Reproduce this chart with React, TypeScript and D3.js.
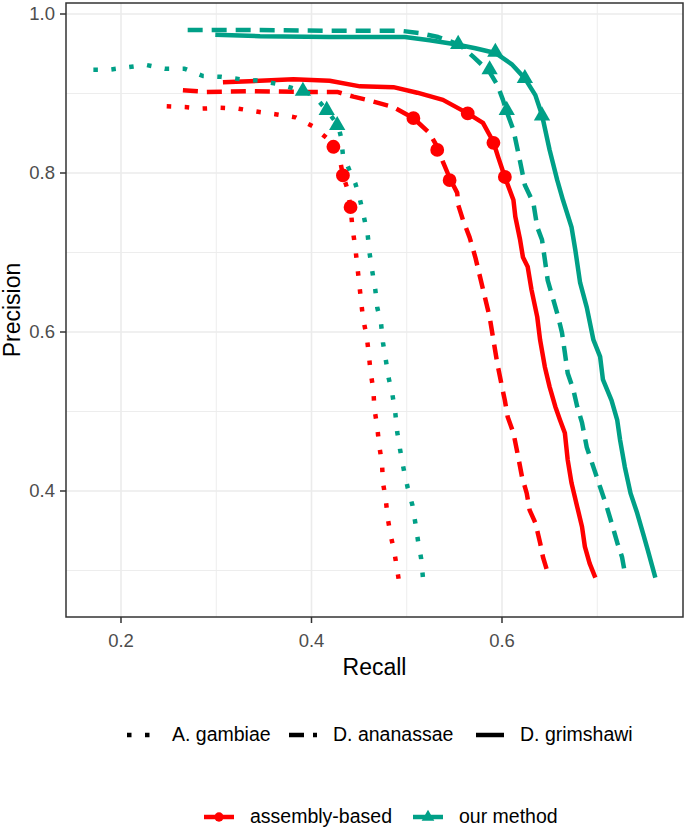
import * as d3 from "d3";

// Precision/recall curves: [recall, precision]
const gambiaeAssembly: [number, number][] = [
  [0.248, 0.884], [0.267, 0.883], [0.285, 0.881], [0.304, 0.882], [0.323, 0.881],
  [0.344, 0.877], [0.362, 0.874], [0.383, 0.870], [0.401, 0.859], [0.416, 0.844],
  [0.423, 0.833], [0.430, 0.816], [0.433, 0.797], [0.438, 0.779], [0.441, 0.757],
  [0.443, 0.731], [0.446, 0.706], [0.448, 0.684], [0.450, 0.662], [0.452, 0.640],
  [0.454, 0.618], [0.458, 0.594], [0.460, 0.574], [0.462, 0.550], [0.465, 0.527],
  [0.466, 0.504], [0.469, 0.481], [0.471, 0.458], [0.474, 0.435], [0.475, 0.411],
  [0.478, 0.389], [0.480, 0.366], [0.483, 0.345], [0.487, 0.323], [0.490, 0.301],
  [0.493, 0.277],
];
const gambiaeOurs: [number, number][] = [
  [0.171, 0.930], [0.188, 0.930], [0.207, 0.933], [0.226, 0.936], [0.246, 0.931],
  [0.267, 0.931], [0.286, 0.922], [0.305, 0.921], [0.325, 0.918], [0.346, 0.916],
  [0.365, 0.912], [0.391, 0.903], [0.402, 0.898], [0.416, 0.879], [0.428, 0.860],
  [0.431, 0.845], [0.433, 0.823], [0.440, 0.803], [0.446, 0.787], [0.451, 0.766],
  [0.455, 0.745], [0.459, 0.722], [0.461, 0.699], [0.464, 0.675], [0.467, 0.653],
  [0.469, 0.631], [0.473, 0.611], [0.475, 0.587], [0.478, 0.565], [0.481, 0.542],
  [0.485, 0.521], [0.488, 0.498], [0.490, 0.474], [0.493, 0.452], [0.497, 0.426],
  [0.501, 0.404], [0.506, 0.382], [0.509, 0.360], [0.512, 0.336], [0.515, 0.316],
  [0.517, 0.291],
];
const ananassaeAssembly: [number, number][] = [
  [0.265, 0.904], [0.290, 0.902], [0.335, 0.903], [0.388, 0.902], [0.427, 0.902],
  [0.444, 0.896], [0.458, 0.892], [0.486, 0.883], [0.507, 0.869], [0.524, 0.850],
  [0.533, 0.831], [0.538, 0.814], [0.545, 0.794], [0.553, 0.775], [0.554, 0.760],
  [0.559, 0.741], [0.566, 0.719], [0.572, 0.694], [0.577, 0.669], [0.582, 0.644],
  [0.587, 0.619], [0.591, 0.590], [0.595, 0.561], [0.600, 0.531], [0.603, 0.514],
  [0.606, 0.493], [0.612, 0.473], [0.617, 0.443], [0.621, 0.418], [0.626, 0.397],
  [0.629, 0.376], [0.635, 0.360], [0.640, 0.335], [0.643, 0.317], [0.648, 0.297],
];
const ananassaeOurs: [number, number][] = [
  [0.270, 0.980], [0.335, 0.980], [0.419, 0.979], [0.493, 0.979], [0.514, 0.976],
  [0.533, 0.971], [0.556, 0.961], [0.570, 0.946], [0.587, 0.927], [0.595, 0.911],
  [0.601, 0.892], [0.605, 0.877], [0.612, 0.854], [0.617, 0.826], [0.624, 0.785],
  [0.633, 0.762], [0.637, 0.732], [0.642, 0.716], [0.645, 0.691], [0.648, 0.665],
  [0.654, 0.640], [0.659, 0.619], [0.663, 0.599], [0.666, 0.574], [0.669, 0.548],
  [0.675, 0.527], [0.679, 0.506], [0.684, 0.486], [0.689, 0.455], [0.696, 0.430],
  [0.703, 0.405], [0.710, 0.380], [0.715, 0.360], [0.721, 0.335], [0.726, 0.317],
  [0.729, 0.297],
];
const grimshawiAssembly: [number, number][] = [
  [0.307, 0.914], [0.381, 0.918], [0.419, 0.916], [0.451, 0.909], [0.486, 0.908],
  [0.511, 0.901], [0.538, 0.892], [0.564, 0.875], [0.580, 0.863], [0.591, 0.839],
  [0.596, 0.820], [0.603, 0.795], [0.612, 0.766], [0.614, 0.745], [0.619, 0.716],
  [0.622, 0.694], [0.627, 0.682], [0.631, 0.653], [0.637, 0.619], [0.640, 0.590],
  [0.645, 0.556], [0.650, 0.531], [0.656, 0.506], [0.661, 0.489], [0.666, 0.473],
  [0.669, 0.439], [0.673, 0.410], [0.679, 0.380], [0.684, 0.355], [0.687, 0.330],
  [0.692, 0.309], [0.698, 0.291],
];
const grimshawiOurs: [number, number][] = [
  [0.299, 0.974], [0.346, 0.972], [0.419, 0.971], [0.498, 0.971], [0.524, 0.967],
  [0.551, 0.962], [0.572, 0.957], [0.593, 0.951], [0.610, 0.937], [0.624, 0.919],
  [0.635, 0.898], [0.642, 0.873], [0.650, 0.829], [0.658, 0.791], [0.664, 0.766],
  [0.673, 0.732], [0.677, 0.703], [0.682, 0.662], [0.689, 0.631], [0.696, 0.590],
  [0.703, 0.569], [0.706, 0.540], [0.715, 0.514], [0.721, 0.489], [0.724, 0.464],
  [0.729, 0.430], [0.735, 0.397], [0.742, 0.372], [0.748, 0.347], [0.753, 0.326],
  [0.761, 0.291],
];

// marked thresholds on each curve
const gambiaeAssemblyPts: [number, number][] = [[0.423, 0.833], [0.433, 0.797], [0.441, 0.757]];
const gambiaeOursPts: [number, number][] = [[0.391, 0.903], [0.416, 0.879], [0.427, 0.860]];
const ananassaeAssemblyPts: [number, number][] = [[0.507, 0.869], [0.532, 0.829], [0.545, 0.791]];
const ananassaeOursPts: [number, number][] = [[0.554, 0.962], [0.587, 0.930], [0.605, 0.879]];
const grimshawiAssemblyPts: [number, number][] = [[0.564, 0.875], [0.591, 0.838], [0.603, 0.795]];
const grimshawiOursPts: [number, number][] = [[0.593, 0.952], [0.624, 0.919], [0.642, 0.872]];

const species = ["A. gambiae", "D. ananassae", "D. grimshawi"];
const methods = ["assembly-based", "our method"];
const xTicks = [0.2, 0.4, 0.6];
const xMinor = [0.3, 0.5, 0.7];
const yTicks = [0.4, 0.6, 0.8, 1.0];
const yMinor = [0.3, 0.5, 0.7, 0.9];

const W = 685;
const H = 829;
const FONT = "'Liberation Sans', Arial, sans-serif";
const RED = "#FF0000";
const TEAL = "#00A087";
const LW = 4.5;
const DASH: Record<string, string | undefined> = {
  "A. gambiae": "4.5 13.5",
  "D. ananassae": "15 9",
  "D. grimshawi": undefined,
};
const COLOR: Record<string, string> = { "assembly-based": RED, "our method": TEAL };

const series = [
  { sp: species[0], m: methods[0], line: gambiaeAssembly, pts: gambiaeAssemblyPts },
  { sp: species[1], m: methods[0], line: ananassaeAssembly, pts: ananassaeAssemblyPts },
  { sp: species[2], m: methods[0], line: grimshawiAssembly, pts: grimshawiAssemblyPts },
  { sp: species[0], m: methods[1], line: gambiaeOurs, pts: gambiaeOursPts },
  { sp: species[1], m: methods[1], line: ananassaeOurs, pts: ananassaeOursPts },
  { sp: species[2], m: methods[1], line: grimshawiOurs, pts: grimshawiOursPts },
];

const panel = { left: 66, right: 683, top: 3, bottom: 617 };

export default function App() {
  const x = d3.scaleLinear().domain([0.14226, 0.79003]).range([panel.left, panel.right]);
  const y = d3.scaleLinear().domain([0.24151, 1.01384]).range([panel.bottom, panel.top]);
  const line = d3.line<[number, number]>().x((d) => x(d[0])).y((d) => y(d[1]));
  const circle = d3.symbol().type(d3.symbolCircle).size(150);
  const tri = d3.symbol().type(d3.symbolTriangle).size(115);
  const circleSm = d3.symbol().type(d3.symbolCircle).size(68);
  const triSm = d3.symbol().type(d3.symbolTriangle).size(70);

  const cx = (panel.left + panel.right) / 2;
  const cy = (panel.top + panel.bottom) / 2;

  // legend layout (key x-start, text x-start)
  const leg1 = [
    { key: 127, text: 172 },
    { key: 289, text: 333 },
    { key: 476, text: 520 },
  ];
  const leg2 = [
    { key: 204, text: 250 },
    { key: 413, text: 459 },
  ];

  return (
    <svg
      width={W}
      height={H}
      style={{ position: "absolute", left: 0, top: 0, background: "#fff" }}
      fontFamily={FONT}
    >
      <rect x={0} y={0} width={W} height={H} fill="#fff" />
      {/* grid */}
      <g>
        {xMinor.map((t) => (
          <line key={"xm" + t} x1={x(t)} x2={x(t)} y1={panel.top} y2={panel.bottom} stroke="#EBEBEB" strokeWidth={0.9} />
        ))}
        {yMinor.map((t) => (
          <line key={"ym" + t} y1={y(t)} y2={y(t)} x1={panel.left} x2={panel.right} stroke="#EBEBEB" strokeWidth={0.9} />
        ))}
        {xTicks.map((t) => (
          <line key={"xM" + t} x1={x(t)} x2={x(t)} y1={panel.top} y2={panel.bottom} stroke="#EBEBEB" strokeWidth={1.6} />
        ))}
        {yTicks.map((t) => (
          <line key={"yM" + t} y1={y(t)} y2={y(t)} x1={panel.left} x2={panel.right} stroke="#EBEBEB" strokeWidth={1.6} />
        ))}
      </g>

      {/* curves */}
      <g fill="none" strokeLinecap="butt" strokeLinejoin="round">
        {series.map((s) => (
          <path
            key={s.sp + s.m}
            d={line(s.line) ?? ""}
            stroke={COLOR[s.m]}
            strokeWidth={LW}
            strokeDasharray={DASH[s.sp]}
          />
        ))}
      </g>
      <g>
        {series.map((s) =>
          s.pts.map((p, i) => (
            <path
              key={s.sp + s.m + i}
              transform={`translate(${x(p[0])},${y(p[1])})`}
              d={(s.m === methods[0] ? circle() : tri()) ?? ""}
              fill={COLOR[s.m]}
            />
          ))
        )}
      </g>

      {/* panel border */}
      <rect
        x={panel.left}
        y={panel.top}
        width={panel.right - panel.left}
        height={panel.bottom - panel.top}
        fill="none"
        stroke="#333333"
        strokeWidth={1.5}
      />

      {/* axes */}
      {xTicks.map((t) => (
        <g key={"xt" + t}>
          <line x1={x(t)} x2={x(t)} y1={panel.bottom} y2={panel.bottom + 6} stroke="#333333" strokeWidth={1.5} />
          <text x={x(t)} y={647} textAnchor="middle" fontSize={18.5} fill="#4D4D4D">
            {t.toFixed(1)}
          </text>
        </g>
      ))}
      {yTicks.map((t) => (
        <g key={"yt" + t}>
          <line x1={panel.left - 6} x2={panel.left} y1={y(t)} y2={y(t)} stroke="#333333" strokeWidth={1.5} />
          <text x={55} y={y(t)} dy="0.35em" textAnchor="end" fontSize={18.5} fill="#4D4D4D">
            {t.toFixed(1)}
          </text>
        </g>
      ))}
      <text x={cx} y={675} textAnchor="middle" fontSize={23} fill="#000">
        Recall
      </text>
      <text transform={`translate(20,${cy}) rotate(-90)`} textAnchor="middle" fontSize={23} fill="#000">
        Precision
      </text>

      {/* species legend */}
      <g>
        {species.map((sp, i) => (
          <g key={sp}>
            <line
              x1={leg1[i].key}
              x2={leg1[i].key + 28}
              y1={735}
              y2={735}
              stroke="#000"
              strokeWidth={LW}
              strokeDasharray={DASH[sp]}
            />
            <text x={leg1[i].text} y={741} fontSize={19.5} fill="#000">
              {sp}
            </text>
          </g>
        ))}
      </g>

      {/* method legend */}
      <g>
        {methods.map((m, i) => (
          <g key={m}>
            <line x1={leg2[i].key} x2={leg2[i].key + 30} y1={817} y2={817} stroke={COLOR[m]} strokeWidth={LW} />
            <path
              transform={`translate(${leg2[i].key + 15},${817})`}
              d={(i === 0 ? circleSm() : triSm()) ?? ""}
              fill={COLOR[m]}
            />
            <text x={leg2[i].text} y={823} fontSize={19.5} fill="#000">
              {m}
            </text>
          </g>
        ))}
      </g>
    </svg>
  );
}
